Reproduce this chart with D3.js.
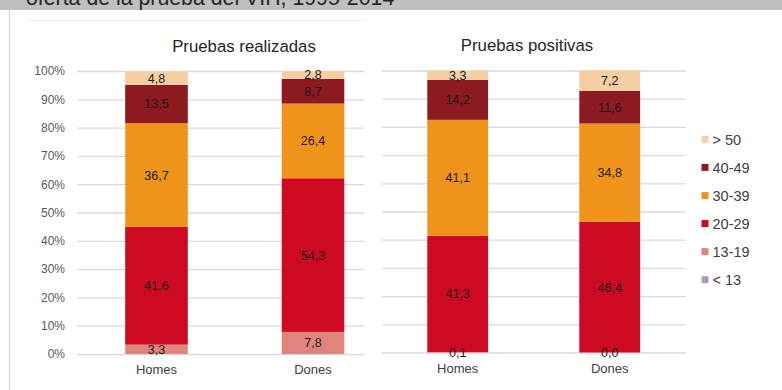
<!DOCTYPE html>
<html><head><meta charset="utf-8">
<script src="https://cdn.jsdelivr.net/npm/d3@7"></script>
<style>
html,body{margin:0;padding:0;background:#fff;}
svg{display:block;font-family:"Liberation Sans",Arial,sans-serif;}
</style></head>
<body>
<svg id="chart" width="782" height="390"></svg>
<script>
// ---- data ----
const headerText = "oferta de la prueba del VIH, 1995-2014";
const panelTitles = ["Pruebas realizadas", "Pruebas positivas"];
const categories = ["Homes", "Dones"];
const ageGroups = ["< 13", "13-19", "20-29", "30-39", "40-49", "> 50"];
const groupColors = ["#a89bbd", "#e0857c", "#cd0a21", "#ef9419", "#8c1a20", "#f5cfa2"];
const realizadasHomes = [null, 3.3, 41.6, 36.7, 13.5, 4.8];
const realizadasDones = [null, 7.8, 54.3, 26.4, 8.7, 2.8];
const positivasHomes = [null, 0.1, 41.3, 41.1, 14.2, 3.3];
const positivasDones = [null, 0.0, 46.4, 34.8, 11.6, 7.2];
const yTicks = [0, 10, 20, 30, 40, 50, 60, 70, 80, 90, 100];
const legendOrder = ["> 50", "40-49", "30-39", "20-29", "13-19", "< 13"];

const svg = d3.select("#chart");
const color = d3.scaleOrdinal().domain(ageGroups).range(groupColors);
const fmt = v => d3.format(".1f")(v).replace(".", ",");

// header band
svg.append("rect").attr("x", 0).attr("y", 0).attr("width", 782).attr("height", 10).attr("fill", "#bfbfbf");
svg.append("text").attr("x", 26).attr("y", 5).attr("font-size", 21.3).attr("fill", "#262626").text(headerText);
svg.append("line").attr("x1", 9.5).attr("x2", 9.5).attr("y1", 10).attr("y2", 390).attr("stroke", "#d4d4d4").attr("stroke-width", 1.2);
svg.append("line").attr("x1", 29).attr("x2", 366).attr("y1", 20.5).attr("y2", 20.5).attr("stroke", "#ececec").attr("stroke-width", 1);

function rows(homes, dones) {
  return [homes, dones].map((vals, i) => {
    const r = {cat: categories[i]};
    ageGroups.forEach((g, j) => r[g] = vals[j]);
    return r;
  });
}

const panels = [
  {title: panelTitles[0], data: rows(realizadasHomes, realizadasDones), xRange: [78.25, 391.25], grid: [77, 364], yRange: [354, 71], titleX: 244, titleY: 52, axis: true},
  {title: panelTitles[1], data: rows(positivasHomes, positivasDones), xRange: [381.7, 685.7], grid: [381.7, 685.7], yRange: [352.5, 70.5], titleX: 527, titleY: 51, axis: false}
];

const stack = d3.stack().keys(ageGroups).value((d, k) => d[k] == null ? 0 : d[k]);

panels.forEach(p => {
  const g = svg.append("g");
  const x = d3.scaleBand().domain(categories).range(p.xRange).paddingInner(0.6).paddingOuter(0.3);
  const y = d3.scaleLinear().domain([0, 100]).range(p.yRange);

  // gridlines
  const grid = g.append("g").attr("transform", `translate(${p.grid[0]},0)`)
    .call(d3.axisLeft(y).tickValues(yTicks).tickSize(-(p.grid[1] - p.grid[0])).tickFormat(""));
  grid.select(".domain").remove();
  grid.selectAll(".tick line").attr("stroke", "#d9d9d9").attr("stroke-width", 1.3);

  if (p.axis) {
    const ax = g.append("g").attr("transform", `translate(${p.grid[0]},0)`)
      .call(d3.axisLeft(y).tickValues(yTicks).tickSize(0).tickPadding(12).tickFormat(d => d + "%"));
    ax.select(".domain").remove();
    ax.selectAll("text").attr("font-size", 12).attr("fill", "#595959").attr("font-family", "Liberation Sans, Arial, sans-serif");
  }

  const series = stack(p.data);
  series.forEach(s => {
    const key = s.key;
    g.append("g").selectAll("rect").data(s.filter(d => d.data[key] != null)).join("rect")
      .attr("x", d => x(d.data.cat))
      .attr("width", x.bandwidth())
      .attr("y", d => y(d[1]))
      .attr("height", d => y(d[0]) - y(d[1]))
      .attr("fill", color(key));
  });
  series.forEach(s => {
    const key = s.key;
    g.append("g").selectAll("text").data(s.filter(d => d.data[key] != null)).join("text")
      .attr("x", d => x(d.data.cat) + x.bandwidth() / 2)
      .attr("y", d => (y(d[0]) + y(d[1])) / 2)
      .attr("dy", "0.36em")
      .attr("text-anchor", "middle")
      .attr("font-size", 12.5)
      .attr("fill", "#1a1a1a")
      .text(d => fmt(d.data[key]));
  });

  // category labels
  const cx = g.append("g").attr("transform", `translate(0,${p.yRange[0]})`)
    .call(d3.axisBottom(x).tickSize(0).tickPadding(11));
  cx.select(".domain").remove();
  cx.selectAll("text").attr("font-size", 13).attr("fill", "#404040").attr("font-family", "Liberation Sans, Arial, sans-serif");

  g.append("text").attr("x", p.titleX).attr("y", p.titleY).attr("text-anchor", "middle")
    .attr("font-size", 16.8).attr("fill", "#262626").text(p.title);
});

// legend
const ly = d3.scalePoint().domain(legendOrder).range([139.3, 279.7]);
const lg = svg.append("g");
legendOrder.forEach(k => {
  lg.append("rect").attr("x", 701.5).attr("y", ly(k) - 3.5).attr("width", 7).attr("height", 7).attr("fill", color(k));
  lg.append("text").attr("x", 712.5).attr("y", ly(k)).attr("dy", "0.36em").attr("font-size", 14.5).attr("fill", "#404040").text(k);
});
</script>
</body></html>
